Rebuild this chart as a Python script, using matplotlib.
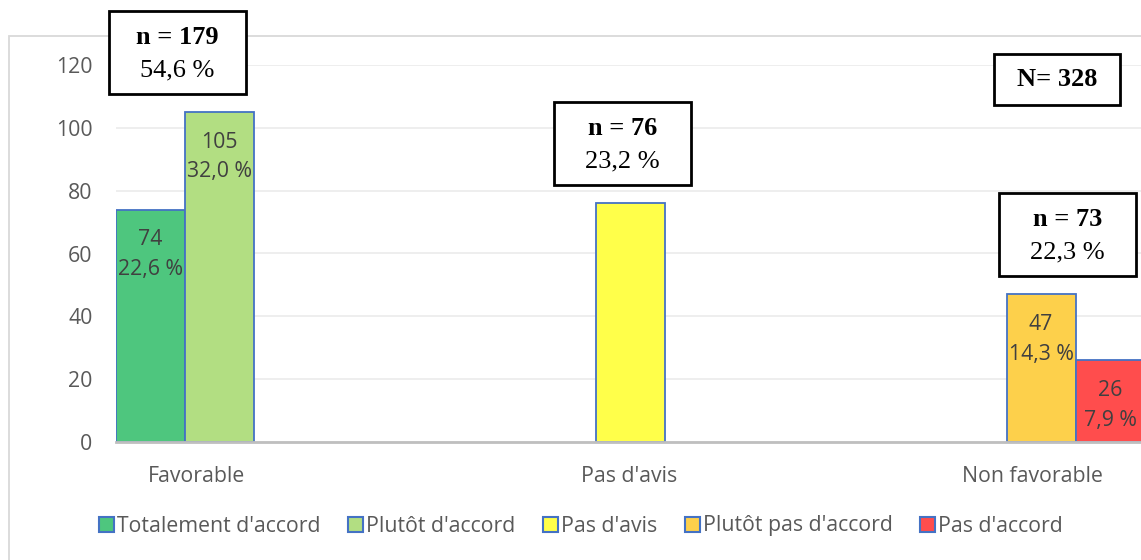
import matplotlib
matplotlib.use("Agg")
from matplotlib import pyplot as plt
from matplotlib.patches import Rectangle
import numpy as np

# data
categories = ["Favorable", "Pas d'avis", "Non favorable"]
series = ["Totalement d'accord", "Plutôt d'accord", "Pas d'avis", "Plutôt pas d'accord", "Pas d'accord"]
totalement = [74, 0, 0]
plutot = [105, 0, 0]
pas_avis = [0, 76, 0]
plutot_pas = [0, 0, 47]
pas_accord = [0, 0, 26]
total_n = 328

values = [totalement, plutot, pas_avis, plutot_pas, pas_accord]
colors = ['#4EC67E', '#B2DE82', '#FFFF4A', '#FDD04B', '#FF4D4D']
show_inner = [True, True, False, True, True]
edge = '#4472C4'
tcol = '#595959'
font = 'Open Sans'
serif = 'Liberation Serif'
fs = 15.3

W, H = 1141, 560
fig = plt.figure(figsize=(W / 100, H / 100), dpi=100)

# axes geometry (pixels): x0=116, y(0)=442, y(120)=65, group spacing ~445px
px_unit = 445.25
x_left = -69 / px_unit
ax = fig.add_axes([116 / W, (H - 442) / H, (1170 - 116) / W, (442 - 65) / H])
ax.set_xlim(x_left, x_left + (1170 - 116) / px_unit)
ax.set_ylim(0, 120)
bw = 69 / px_unit
ypx = (442 - 65) / 120.0

def fmt_pct(v):
    return f"{100 * v / total_n:.1f} %".replace('.', ',')

xpos = np.arange(len(categories))
for j in range(len(categories)):
    present = [i for i in range(len(series)) if values[i][j] > 0]
    n = len(present)
    for k, i in enumerate(present):
        x = xpos[j] + (k - (n - 1) / 2) * bw
        v = values[i][j]
        ax.bar(x, v, width=bw, color=colors[i], edgecolor=edge, linewidth=1.3, zorder=3)
        if show_inner[i]:
            ax.annotate(f"{v}\n{fmt_pct(v)}", (x, v), xytext=(0, -14), textcoords='offset points',
                        ha='center', va='top', fontsize=fs, color='#404040', family=font,
                        linespacing=1.55, zorder=4)

# group boxes
box_w = 137 / px_unit
box_h = 83 / ypx
for j in range(len(categories)):
    n = sum(v[j] for v in values)
    top = max(v[j] for v in values)
    cx = xpos[j] - 8 / px_unit
    cy = top + 19
    ax.add_patch(Rectangle((cx - box_w / 2, cy - box_h / 2), box_w, box_h, facecolor='white',
                           edgecolor='black', linewidth=2, clip_on=False, zorder=6))
    ax.text(cx, cy + 15 / ypx, f"n = {n}", ha='center', va='center', fontsize=19,
            fontweight='bold', family=serif, zorder=7, clip_on=False)
    ax.text(cx, cy - 18 / ypx, fmt_pct(n), ha='center', va='center', fontsize=19,
            family=serif, zorder=7, clip_on=False)

# overall N box
ncx, ncy = (1057 - 185) / px_unit, (442 - 80) / ypx
nw, nh = 126 / px_unit, 51 / ypx
ax.add_patch(Rectangle((ncx - nw / 2, ncy - nh / 2), nw, nh, facecolor='white',
                       edgecolor='black', linewidth=2, clip_on=False, zorder=6))
ax.text(ncx, ncy, f"N= {total_n}", ha='center', va='center', fontsize=19,
        fontweight='bold', family=serif, zorder=7)

# axes styling
ax.set_yticks(np.arange(0, 121, 20))
ax.yaxis.grid(True, color='#EBEBEB', linewidth=1.2, zorder=0)
ax.set_axisbelow(True)
for s in ['top', 'right', 'left']:
    ax.spines[s].set_visible(False)
ax.spines['bottom'].set_color('#BFBFBF')
ax.spines['bottom'].set_linewidth(2)
ax.spines['bottom'].set_zorder(5)
ax.tick_params(axis='y', length=0, pad=17, labelsize=fs, labelcolor=tcol)
for lab in ax.get_yticklabels():
    lab.set_family(font)

label_shift = [12, -1, -43]  # pixels, category label positions as in reference
ax.set_xticks(xpos + np.array(label_shift) / px_unit)
ax.set_xticklabels(categories, family=font, fontsize=fs, color=tcol)
ax.tick_params(axis='x', length=0, pad=17)

# legend
handles = [Rectangle((0, 0), 1, 1, facecolor=c, edgecolor=edge, linewidth=1.5) for c in colors]
leg = fig.legend(handles, series, loc='center', bbox_to_anchor=(581 / W, (H - 526) / H),
                 ncol=5, frameon=False, handlelength=0.7, handleheight=0.7,
                 handletextpad=0.15, columnspacing=1.3,
                 prop={'family': font, 'size': fs})
for t in leg.get_texts():
    t.set_color(tcol)

# chart area border (cropped on the right and bottom)
fig.patches.append(Rectangle((9 / W, -0.05), 1.2, (H - 36) / H + 0.05, transform=fig.transFigure,
                             facecolor='none', edgecolor='#D9D9D9', linewidth=1.3, zorder=-5))

fig.savefig('out.png', dpi=100)
